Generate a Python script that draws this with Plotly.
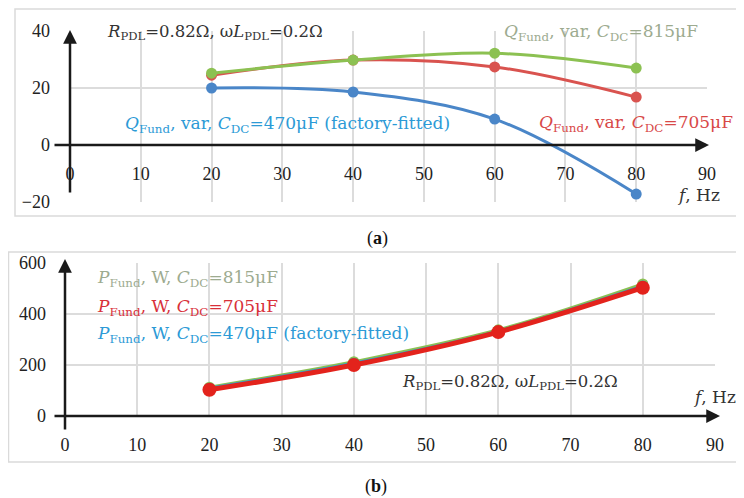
import plotly.graph_objects as go

# the page adds an 8 px body margin, so the figure is drawn at (8, 8)
OFF = 8
W, H = 744 - OFF, 498 - OFF

freq = [20, 40, 60, 80]
# (a) reactive power, var
q_470 = [20.0, 18.6, 9.1, -17.2]
q_705 = [24.5, 29.8, 27.4, 16.8]
q_815 = [25.2, 29.8, 32.2, 27.0]
# (b) active power, W
p_815 = [113, 213, 338, 518]
p_470 = [109, 207, 333, 510]
p_705 = [103, 200, 329, 503]

x_ticks = [0, 10, 20, 30, 40, 50, 60, 70, 80, 90]
qa_ticks = [-20, 0, 20, 40]
pb_ticks = [0, 200, 400, 600]

C_BLUE_L = "#4a86c8"
C_RED_L = "#d9534f"
C_GREEN_L = "#8cc152"
C_BLUE_T = "#2c9ad6"
C_RED_T = "#d84848"
C_GREEN_T = "#9dab90"

FONT = "Liberation Serif"
TFONT = "DejaVu Serif"
TSIZE = 17


def px(x):
    return (x - OFF) / W


def py(y):
    return 1 - (y - OFF) / H


fig = go.Figure()

# (a)
for ys, col in [(q_470, C_BLUE_L), (q_705, C_RED_L), (q_815, C_GREEN_L)]:
    fig.add_trace(go.Scatter(x=freq, y=ys, mode="lines+markers",
                             line=dict(color=col, width=3, shape="spline"),
                             marker=dict(color=col, size=11),
                             xaxis="x", yaxis="y", showlegend=False))

# (b)
for ys, col, lw, ms in [(p_815, C_GREEN_L, 3, 11), (p_470, C_BLUE_T, 3, 11),
                        (p_705, "#e3231c", 5, 14)]:
    fig.add_trace(go.Scatter(x=freq, y=ys, mode="lines+markers",
                             line=dict(color=col, width=lw, shape="spline"),
                             marker=dict(color=col, size=ms),
                             xaxis="x2", yaxis="y2", showlegend=False))

tickfont = dict(family=FONT, size=18, color="#222")
grid = dict(showgrid=True, gridcolor="#dcdcdc", gridwidth=1.5, zeroline=False,
            showline=False, ticks="", tickfont=tickfont, automargin=False)

fig.update_layout(
    width=W, height=H,
    margin=dict(l=0, r=0, t=0, b=0, autoexpand=False),
    paper_bgcolor="white", plot_bgcolor="white",
    xaxis=dict(domain=[px(70), px(707)], range=[0, 90], tickvals=x_ticks,
               anchor="free", position=py(145), ticklabelstandoff=16, **grid),
    yaxis=dict(domain=[py(202), py(31)], range=[-20, 40], tickvals=qa_ticks,
               anchor="x", ticklabelstandoff=19, **grid),
    xaxis2=dict(domain=[px(65), px(715)], range=[0, 90], tickvals=x_ticks,
                anchor="y2", ticklabelstandoff=16, **grid),
    yaxis2=dict(domain=[py(416), py(263)], range=[0, 600], tickvals=pb_ticks,
                anchor="x2", ticklabelstandoff=18, **grid),
)

# panel frames
fig.add_shape(type="rect", xref="paper", yref="paper", x0=px(15), x1=1.02,
              y0=py(216), y1=py(9), line=dict(color="#dadada", width=1.5))
fig.add_shape(type="rect", xref="paper", yref="paper", x0=px(8.5), x1=1.02,
              y0=py(462), y1=py(252), line=dict(color="#dadada", width=1.5))

# axis arrows
def arrow(hx, hy, tx, ty):
    fig.add_annotation(x=px(hx), y=py(hy), xref="paper", yref="paper",
                       ax=tx - hx, ay=ty - hy, axref="pixel", ayref="pixel",
                       text="", showarrow=True, arrowhead=2, arrowsize=1.1,
                       arrowwidth=2.5, arrowcolor="#1a1a1a")

arrow(709, 145, 53, 145)
arrow(70, 30, 70, 194)
arrow(720, 416, 53, 416)
arrow(65, 259, 65, 431)


def label(x, y, text, color, xanchor="left", size=TSIZE, family=TFONT):
    fig.add_annotation(x=px(x), y=py(y), xref="paper", yref="paper",
                       text=text, showarrow=False, xanchor=xanchor,
                       yanchor="middle",
                       font=dict(family=family, size=size, color=color))

RTXT = "<i>R</i><sub>PDL</sub>=0.82Ω, ω<i>L</i><sub>PDL</sub>=0.2Ω"
label(105, 32, RTXT, "#333333", size=16.5)
label(502, 33, "<i>Q</i><sub>Fund</sub>, var, <i>C</i><sub>DC</sub>=815μF", C_GREEN_T)
label(537, 123, "<i>Q</i><sub>Fund</sub>, var, <i>C</i><sub>DC</sub>=705μF", C_RED_T)
label(123, 125, "<i>Q</i><sub>Fund</sub>, var, <i>C</i><sub>DC</sub>=470μF (factory-fitted)", C_BLUE_T)
label(722, 195, "<i>f</i>, Hz", "#333333", xanchor="right")

label(95, 278, "<i>P</i><sub>Fund</sub>, W, <i>C</i><sub>DC</sub>=815μF", C_GREEN_T)
label(95, 307, "<i>P</i><sub>Fund</sub>, W, <i>C</i><sub>DC</sub>=705μF", "#d8303a")
label(95, 334, "<i>P</i><sub>Fund</sub>, W, <i>C</i><sub>DC</sub>=470μF (factory-fitted)", C_BLUE_T)
label(400, 382, RTXT, "#333333", size=16.5)
label(738, 397, "<i>f</i>, Hz", "#333333", xanchor="right")

label(378, 238, "(<b>a</b>)", "#111111", xanchor="center", size=18, family=FONT)
label(376, 486, "(<b>b</b>)", "#111111", xanchor="center", size=18, family=FONT)

fig.write_html("out.html")
